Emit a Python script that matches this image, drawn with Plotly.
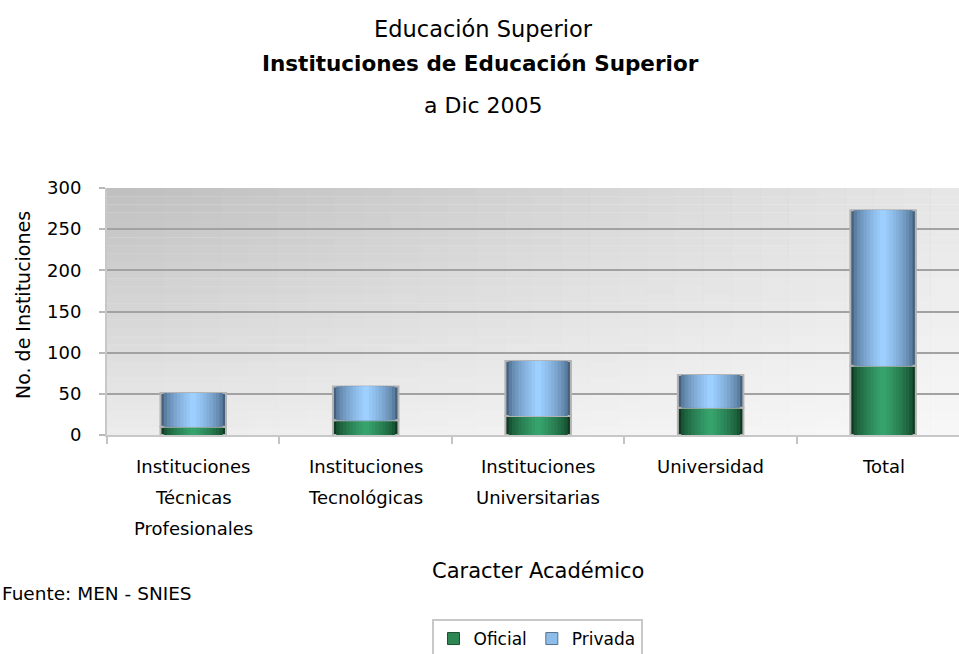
#!/usr/bin/env python3
"""
Instituciones de Educación Superior a Dic 2005 - barras apiladas Oficial / Privada.
"""

import plotly.graph_objects as go

# Datos
categorias = [
    "Instituciones Técnicas Profesionales",
    "Instituciones Tecnológicas",
    "Instituciones Universitarias",
    "Universidad",
    "Total",
]
etiquetas = [
    ["Instituciones", "Técnicas", "Profesionales"],
    ["Instituciones", "Tecnológicas"],
    ["Instituciones", "Universitarias"],
    ["Universidad"],
    ["Total"],
]
oficial = [10, 18, 23, 33, 84]
privada = [41, 41, 67, 40, 189]
y_ticks = [0, 50, 100, 150, 200, 250, 300]

FONT = "DejaVu Sans"
ANCHO = 0.38
CAPAS = 10
H, W = 654, 959


def mezcla(c1, c2, t):
    """Interpolate two hex colours."""
    a = [int(c1[i:i + 2], 16) for i in (1, 3, 5)]
    b = [int(c2[i:i + 2], 16) for i in (1, 3, 5)]
    return "#" + "".join(f"{round(x + (y - x) * t):02x}" for x, y in zip(a, b))


def agregar_serie(fig, nombre, valores, base, oscuro, claro, leyenda):
    """Draw one series as stacked layers of narrower bars -> cylinder shading."""
    for k in range(CAPAS):
        frac = 1 - k / CAPAS
        t = (k / (CAPAS - 1)) ** 0.6
        fig.add_trace(go.Bar(
            x=categorias,
            y=valores,
            base=base,
            width=ANCHO * frac,
            name=nombre,
            marker=dict(
                color=mezcla(oscuro, claro, t),
                line=dict(color="#b4b4b4", width=2 if k == 0 else 0),
            ),
            showlegend=False,
            hoverinfo="skip" if k else "x+y+name",
        ))
    # legend-only entry
    fig.add_trace(go.Bar(
        x=[categorias[0]], y=[None], name=nombre,
        marker=dict(color=leyenda, line=dict(color=mezcla(leyenda, "#000000", 0.4), width=1)),
        showlegend=True,
    ))


fig = go.Figure()
agregar_serie(fig, "Oficial", oficial, [0] * len(oficial), "#0f3a21", "#36a36c", "#2e8653")
agregar_serie(fig, "Privada", privada, oficial, "#44617f", "#9dcfff", "#8fbde9")

# plot background gradient (vertical bands + light diagonal wash)
shapes = []
n_bandas = 30
for i in range(n_bandas):
    t = i / (n_bandas - 1)
    shapes.append(dict(
        type="rect", xref="x domain", yref="y domain", layer="below",
        x0=0, x1=1, y0=1 - (i + 1) / n_bandas, y1=1 - i / n_bandas,
        fillcolor=mezcla("#c0c0c0", "#ececec", t), line_width=0,
    ))
for i in range(n_bandas):
    t = i / (n_bandas - 1)
    shapes.append(dict(
        type="rect", xref="x domain", yref="y domain", layer="below",
        x0=i / n_bandas, x1=(i + 1) / n_bandas, y0=0, y1=1,
        fillcolor="#ffffff", opacity=0.6 * t, line_width=0,
    ))

# category labels, one annotation per line (wider line spacing than tick labels)
anotaciones = []
for cat, lineas in zip(categorias, etiquetas):
    for j, txt in enumerate(lineas):
        anotaciones.append(dict(
            x=cat, xref="x", y=0, yref="paper", yanchor="middle",
            yshift=-(31 + 31 * j), text=txt, showarrow=False,
            font=dict(family=FONT, size=18, color="#000000"),
        ))


# paper = plot area: x 107..959, y 188..435
def px_x(x):
    return (x - 107) / 852


def px_y(y):
    return (435 - y) / 247


for txt, xpx, ypx, tam, xa, ang in [
    ("Educación Superior", 483, 29, 22.5, "center", 0),
    ("<b>Instituciones de Educación Superior</b>", 480, 64, 21.5, "center", 0),
    ("a Dic 2005", 483, 105, 22, "center", 0),
    ("Caracter Académico", 538, 571, 21, "center", 0),
    ("Fuente: MEN - SNIES", 194, 593, 18.5, "right", 0),
    ("No. de Instituciones", 23, 305, 19, "center", -90),
]:
    anotaciones.append(dict(
        x=px_x(xpx), xref="paper", y=px_y(ypx), yref="paper",
        xanchor=xa, yanchor="middle", text=txt, showarrow=False,
        textangle=ang, font=dict(family=FONT, size=tam, color="#000000"),
    ))

fig.update_layout(
    width=W, height=H,
    margin=dict(l=107, r=0, t=188, b=219, autoexpand=False),
    barmode="overlay",
    paper_bgcolor="#ffffff",
    plot_bgcolor="#e6e6e6",
    font=dict(family=FONT, size=18, color="#000000"),
    shapes=shapes,
    annotations=anotaciones,
    showlegend=True,
    legend=dict(
        orientation="h",
        xref="container", x=537 / W, xanchor="center",
        yref="container", y=1 - 619 / H, yanchor="top",
        bgcolor="#ffffff", bordercolor="#c8c8c8", borderwidth=2,
        font=dict(family=FONT, size=17, color="#000000"),
        itemwidth=30, traceorder="normal",
    ),
)

fig.update_xaxes(
    range=[-0.5, 4.44],
    showticklabels=False,
    showgrid=False,
    ticks="outside", tickson="boundaries", ticklen=7, tickwidth=2, tickcolor="#c4c4c4",
    showline=True, linecolor="#c8c8c8", linewidth=2,
    fixedrange=True, automargin=False,
)
fig.update_yaxes(
    range=[0, 300],
    tickvals=y_ticks,
    showgrid=True, gridcolor="#a2a2a2", gridwidth=2,
    zeroline=False,
    ticks="outside", ticklen=6, tickwidth=2, tickcolor="#b8b8b8",
    ticklabelstandoff=14,
    showline=True, linecolor="#c8c8c8", linewidth=2,
    tickfont=dict(family=FONT, size=18, color="#000000"),
    fixedrange=True, automargin=False,
)

# page body has a default 8px margin; drop it so the figure sits at 0,0
fig.write_html(
    "out.html",
    config={"displayModeBar": False},
    post_script="document.body.style.margin='0';",
)
